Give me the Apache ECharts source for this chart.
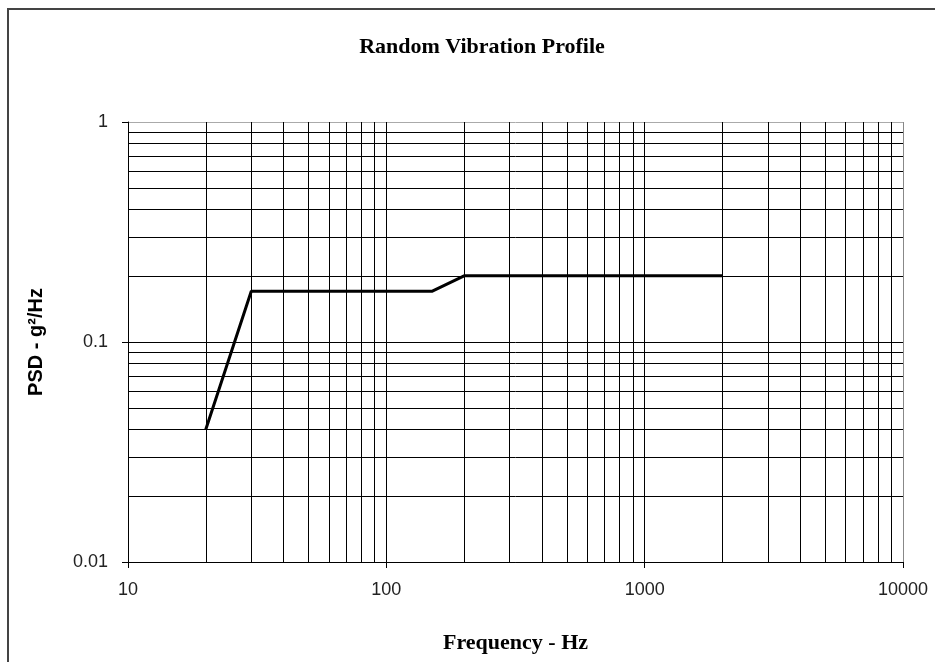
<!DOCTYPE html>
<html>
<head>
<meta charset="utf-8">
<title>Random Vibration Profile</title>
<script src="https://cdn.jsdelivr.net/npm/echarts@6/dist/echarts.min.js"></script>
<style>
  html, body { margin: 0; padding: 0; background: #fff; }
  #chart { width: 935px; height: 662px; }
</style>
</head>
<body>
<div id="chart"></div>
<script>
// profile breakpoints (Hz, g^2/Hz)
const freqs = [20, 30, 150, 200, 2000]
const psd = [0.04, 0.17, 0.17, 0.2, 0.2]

// minor grid values (2..9 in every decade)
const minorX = [20, 30, 40, 50, 60, 70, 80, 90,
  200, 300, 400, 500, 600, 700, 800, 900,
  2000, 3000, 4000, 5000, 6000, 7000, 8000, 9000]
const minorY = [0.02, 0.03, 0.04, 0.05, 0.06, 0.07, 0.08, 0.09,
  0.2, 0.3, 0.4, 0.5, 0.6, 0.7, 0.8, 0.9]

const serif = '"Liberation Serif", "Times New Roman", serif'
const sans = '"Liberation Sans", Arial, sans-serif'

const chart = echarts.init(document.getElementById('chart'))

const gridLines = [
  ...minorX.map(v => ({ xAxis: v })),
  ...minorY.map(v => ({ yAxis: v }))
]

chart.setOption({
  animation: false,
  backgroundColor: '#fff',
  title: {
    text: 'Random Vibration Profile',
    left: 477,
    top: 31,
    textAlign: 'center',
    textStyle: { fontFamily: serif, fontWeight: 'bold', fontSize: 22, color: '#000' }
  },
  graphic: [{
    type: 'rect',
    shape: { x: 8, y: 9, width: 1000, height: 1000 },
    style: { fill: 'none', stroke: '#444', lineWidth: 2 },
    silent: true
  }],
  grid: { left: 128, right: 32, top: 122, bottom: 100 },
  xAxis: {
    type: 'log',
    logBase: 10,
    min: 10,
    max: 10000,
    name: 'Frequency - Hz',
    nameLocation: 'middle',
    nameGap: 70,
    nameTextStyle: { fontFamily: serif, fontWeight: 'bold', fontSize: 22, color: '#000' },
    axisLine: { lineStyle: { color: '#000', width: 1 } },
    axisTick: { show: true, length: 6, lineStyle: { color: '#000' } },
    axisLabel: {
      fontFamily: sans, fontSize: 18, color: '#222', margin: 19,
      formatter: v => String(v)
    },
    splitLine: { show: true, lineStyle: { color: ['#000', '#000', '#000', '#888'], width: 1 } }
  },
  yAxis: {
    type: 'log',
    logBase: 10,
    min: 0.01,
    max: 1,
    name: 'PSD - g²/Hz',
    nameLocation: 'middle',
    nameGap: 82,
    nameTextStyle: { fontFamily: sans, fontWeight: 'bold', fontSize: 20, color: '#000' },
    axisLine: { show: true, lineStyle: { color: '#000', width: 1 } },
    axisTick: { show: true, length: 6, lineStyle: { color: '#000' } },
    axisLabel: {
      fontFamily: sans, fontSize: 18, color: '#222', margin: 20,
      formatter: v => String(v)
    },
    splitLine: { show: true, lineStyle: { color: ['#000', '#000', '#aaa'], width: 1 } }
  },
  series: [{
    type: 'line',
    data: freqs.map((f, i) => [f, psd[i]]),
    showSymbol: false,
    symbol: 'none',
    lineStyle: { color: '#000', width: 3 },
    z: 5,
    markLine: {
      silent: true,
      symbol: 'none',
      label: { show: false },
      lineStyle: { color: '#000', width: 1, type: 'solid' },
      emphasis: { disabled: true },
      data: gridLines,
      z: 1
    }
  }]
})
</script>
</body>
</html>
